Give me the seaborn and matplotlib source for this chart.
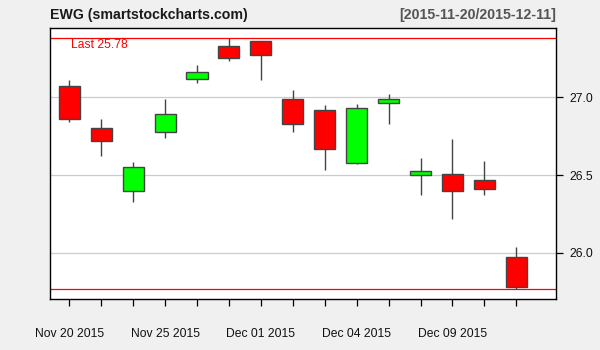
import matplotlib
matplotlib.use("Agg")
import matplotlib.pyplot as plt
import seaborn as sns
import numpy as np
import pandas as pd

dates = ["2015-11-20", "2015-11-23", "2015-11-24", "2015-11-25", "2015-11-27",
         "2015-11-30", "2015-12-01", "2015-12-02", "2015-12-03", "2015-12-04",
         "2015-12-07", "2015-12-08", "2015-12-09", "2015-12-10", "2015-12-11"]
opens = [27.07, 26.80, 26.40, 26.78, 27.115, 27.33, 27.36, 26.99, 26.92, 26.58,
         26.966, 26.50, 26.51, 26.47, 25.97]
highs = [27.11, 26.86, 26.585, 26.99, 27.21, 27.38, 27.365, 27.05, 26.95, 26.96,
         27.02, 26.61, 26.73, 26.59, 26.04]
lows = [26.84, 26.62, 26.33, 26.74, 27.095, 27.235, 27.11, 26.78, 26.53, 26.57,
        26.83, 26.37, 26.22, 26.37, 25.77]
closes = [26.86, 26.72, 26.55, 26.89, 27.165, 27.25, 27.27, 26.83, 26.67, 26.93,
          26.99, 26.525, 26.40, 26.41, 25.78]
y_ticks = [26.0, 26.5, 27.0]
label_every = 3

df = pd.DataFrame({"date": pd.to_datetime(dates), "open": opens, "high": highs,
                   "low": lows, "close": closes})
df["idx"] = np.arange(len(df))

sns.set_style("white")
plt.rcParams["font.family"] = ["Liberation Sans", "DejaVu Sans"]

fig = plt.figure(figsize=(6, 3.5), dpi=100, facecolor="#F0F0F0")
ax = fig.add_axes([50/600, 1 - 299.3/350, 506/600, 271.3/350])
ax.set_facecolor("white")

# grid
for v in y_ticks:
    ax.axhline(v, color="#CCCCCC", lw=0.9, zorder=0)

# red range lines
ax.axhline(df["high"].max(), color="#FF0000", lw=0.9, zorder=1)
ax.axhline(df["low"].min(), color="#FF0000", lw=0.9, zorder=1)

edge = "#444444"
colors = np.where(df["close"] >= df["open"], "#00FF00", "#FF0000")
ax.vlines(df["idx"], df["low"], df["high"], color=edge, lw=1.0, zorder=2)
bottoms = np.minimum(df["open"], df["close"])
heights = np.abs(df["close"] - df["open"])
ax.bar(df["idx"], heights, bottom=bottoms, width=0.66, color=colors,
       edgecolor=edge, linewidth=1.0, zorder=3)

ax.set_xlim(-0.604, 15.243)
ax.set_ylim(25.701, 27.446)

ax.set_xticks(df["idx"])
ax.set_xticklabels([d.strftime("%b %d %Y") if i % label_every == 0 else ""
                    for i, d in enumerate(df["date"])])
ax.yaxis.tick_right()
ax.set_yticks(y_ticks)
ax.set_yticklabels([f"{v:.1f}" for v in y_ticks])
ax.tick_params(axis="x", direction="out", length=5, width=0.9, color="black",
               labelsize=8.7, pad=15.4, labelcolor="#111111")
ax.tick_params(axis="y", direction="out", length=5, width=0.9, color="black",
               labelsize=8.7, pad=5, labelcolor="#111111", right=True, left=False)
ax.tick_params(bottom=True)

for s in ax.spines.values():
    s.set_visible(True)
    s.set_color("black")
    s.set_linewidth(1.0)

fig.text(50/600, 1 - 19.3/350, "EWG (smartstockcharts.com)", ha="left",
         va="baseline", fontsize=10.2, fontweight="bold", color="#1a1a1a")
fig.text(556/600, 1 - 19.3/350,
         f"[{dates[0]}/{dates[-1]}]", ha="right",
         va="baseline", fontsize=10.2, fontweight="bold", color="#555555")
fig.text(71/600, 1 - 47.7/350, f"Last {closes[-1]:.2f}", ha="left",
         va="baseline", fontsize=8.7, color="#FF0000")

fig.savefig("out.png", dpi=100, facecolor=fig.get_facecolor())
